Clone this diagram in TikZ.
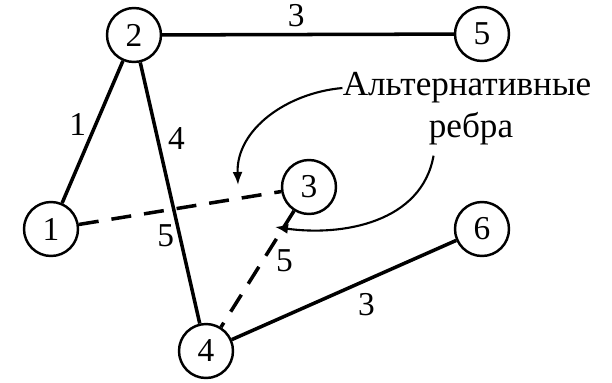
\documentclass[tikz,border=0pt]{standalone}
\usepackage{fontspec}
\setmainfont{Liberation Serif}
\usepackage{tikz}
\usetikzlibrary{arrows.meta,positioning,calc}

\begin{document}
\begin{tikzpicture}[
  vertex/.style={circle, draw=black, line width=1.4pt, minimum size=1.08cm, inner sep=0pt, font=\fontsize{19}{21}\selectfont},
  treeedge/.style={line width=2pt},
  altedge/.style={line width=2pt, dash pattern=on 0.4cm off 0.26cm},
  wlabel/.style={font=\fontsize{19}{21}\selectfont, inner sep=1pt},
  note/.style={font=\fontsize{20}{24}\selectfont, inner sep=0pt},
  pointer/.style={-{Latex[length=2.6mm,width=2mm]}, line width=1.2pt}
]
\useasboundingbox (0,0) rectangle (12.24,-7.64);

% Vertices
\node[vertex] (v2) at (2.68,-0.70) {2};
\node[vertex] (v5) at (9.64,-0.68) {5};
\node[vertex] (v1) at (1.02,-4.58) {1};
\node[vertex] (v3) at (6.18,-3.74) {3};
\node[vertex] (v6) at (9.64,-4.58) {6};
\node[vertex] (v4) at (4.12,-7.02) {4};

% Spanning tree edges
\draw[treeedge] (v2) -- node[wlabel, pos=0.46, above=0.08cm] {3} (v5);
\draw[treeedge] (v2) -- node[wlabel, pos=0.45, left=0.12cm] {1} (v1);
\draw[treeedge] (v2) -- node[wlabel, pos=0.29, right=0.14cm] {4} (v4);
\draw[treeedge] (v4) -- node[wlabel, pos=0.6, below=0.2cm] {3} (v6);

% Alternative edges
\draw[altedge] (v1) -- node[wlabel, pos=0.43, below=0.22cm] {5} (v3);
\draw[altedge] (v3) -- node[wlabel, pos=0.43, right=0.2cm] {5} (v4);

% Annotation
\node[note] (alt) at (9.34,-1.76) {Альтернативные};
\node[note] (rebra) at (9.42,-2.58) {ребра};
\coordinate (tip1) at (4.76,-3.70);
\coordinate (tip2) at (5.50,-4.54);
\draw[pointer] (alt.west) to[out=185, in=92] (tip1);
\draw[pointer] ($(rebra.south west)+(0.1,-0.2)$) to[out=-100, in=-8] (tip2);

\end{tikzpicture}
\end{document}
